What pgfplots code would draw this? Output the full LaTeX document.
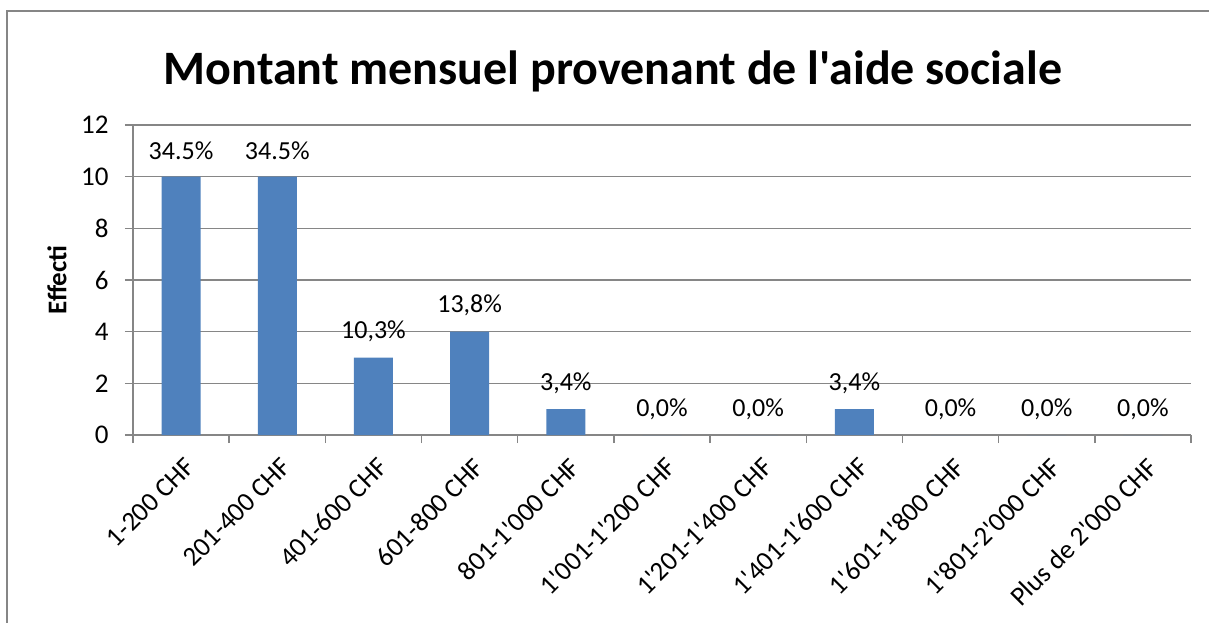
\documentclass[border=0pt]{standalone}
\usepackage{fontspec}
\setmainfont{Carlito}[Ligatures=TeXOff]
\usepackage{pgfplots}
\pgfplotsset{compat=1.18}
\definecolor{barblue}{HTML}{4F81BD}
\definecolor{gridgray}{HTML}{868686}
\begin{document}
\begin{tikzpicture}
\useasboundingbox (-66.5bp,-94bp) rectangle (538bp,217.5bp);
\draw[gridgray, line width=0.75bp] (-63bp,-94bp) -- (-63bp,212bp) -- (538bp,212bp);
\begin{axis}[
  at={(0,0)}, anchor=south west,
  scale only axis, width=529bp, height=155bp,
  xmin=0, xmax=11, ymin=0, ymax=12,
  ytick={0,2,...,12},
  xtick={0,...,11},
  x tick label as interval,
  xticklabels={1-200 CHF,201-400 CHF,401-600 CHF,601-800 CHF,801-1'000 CHF,1'001-1'200 CHF,1'201-1'400 CHF,1'401-1'600 CHF,1'601-1'800 CHF,1'801-2'000 CHF,Plus de 2'000 CHF},
  axis lines*=left,
  axis line style={gridgray, line width=0.75bp},
  tick style={gridgray, line width=0.75bp},
  tick align=outside,
  major tick length=4bp,
  ymajorgrids,
  grid style={gridgray, line width=0.75bp},
  /pgf/number format/assume math mode=true,
  ticklabel style={font=\fontsize{13.5bp}{16bp}\selectfont, text=black},
  xticklabel style={rotate=45, anchor=north east, inner sep=1bp, yshift=-4.5bp, xshift=-2.5bp},
  yticklabel style={anchor=east, inner sep=1bp, xshift=-7bp},
  ylabel={Effecti},
  every axis y label/.style={at={(axis description cs:-0.0718,0.5)}, rotate=90, anchor=center, font=\bfseries\fontsize{13.5bp}{16bp}\selectfont},
  nodes near coords,
  point meta=explicit symbolic,
  every node near coord/.append style={anchor=center, yshift=13bp, font=\fontsize{13bp}{15bp}\selectfont, text=black},
]
\addplot[ybar, bar width=19.5bp, fill=barblue, draw=none] coordinates {
  (0.5,10) [34.5\%]
  (1.5,10) [34.5\%]
  (2.5,3) [10,3\%]
  (3.5,4) [13,8\%]
  (4.5,1) [3,4\%]
  (5.5,0) [0,0\%]
  (6.5,0) [0,0\%]
  (7.5,1) [3,4\%]
  (8.5,0) [0,0\%]
  (9.5,0) [0,0\%]
  (10.5,0) [0,0\%]
};
\end{axis}
\node[font=\bfseries\fontsize{24bp}{28bp}\selectfont] at (240bp,182bp) {Montant mensuel provenant de l'aide sociale};
\end{tikzpicture}
\end{document}
